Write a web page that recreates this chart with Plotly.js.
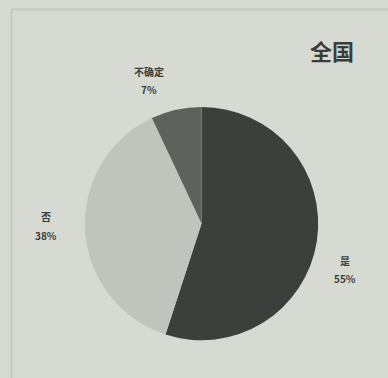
<!DOCTYPE html>
<html>
<head>
<meta charset="utf-8">
<script src="https://cdn.plot.ly/plotly-3.0.1.min.js"></script>
<style>html,body{margin:0;padding:0;background:#d6dad2;}</style>
</head>
<body>
<div id="chart" style="width:388px;height:378px;"></div>
<script>
const categories = ["是", "否", "不确定"];
const values = [55, 38, 7];
const valueLabels = ["55%", "38%", "7%"];
const colors = ["#3c3f3c", "#c1c4bd", "#5e615c"];
const chartTitle = "全国";

const labelPos = [
  {x: 0.89, y: 0.285},
  {x: 0.118, y: 0.40},
  {x: 0.385, y: 0.785}
];

const annotations = [];
categories.forEach((c, i) => {
  annotations.push({
    text: "<b>" + c + "</b>", x: labelPos[i].x, y: labelPos[i].y + 0.026,
    xref: "paper", yref: "paper", xanchor: "center", yanchor: "middle",
    showarrow: false, font: {family: "Noto Sans CJK SC", size: 10, color: "#3a3c3a"}
  });
  annotations.push({
    text: "<b>" + valueLabels[i] + "</b>", x: labelPos[i].x, y: labelPos[i].y - 0.022,
    xref: "paper", yref: "paper", xanchor: "center", yanchor: "middle",
    showarrow: false, font: {family: "Noto Sans CJK SC", size: 10, color: "#3a3c3a"}
  });
});
annotations.push({
  text: "<b>" + chartTitle + "</b>", x: 0.855, y: 0.868, xref: "paper", yref: "paper",
  xanchor: "center", yanchor: "middle",
  showarrow: false, font: {family: "Noto Sans CJK SC", size: 22, color: "#3a3c3a"}
});

Plotly.newPlot("chart", [{
  type: "pie",
  labels: categories,
  values: values,
  sort: false,
  direction: "clockwise",
  rotation: 0,
  textinfo: "none",
  hoverinfo: "none",
  marker: {colors: colors, line: {width: 0}},
  domain: {x: [0.214, 0.825], y: [0.10, 0.717]}
}], {
  width: 388, height: 378,
  margin: {l: 0, r: 0, t: 0, b: 0},
  paper_bgcolor: "#d6dad2",
  plot_bgcolor: "#d6dad2",
  showlegend: false,
  annotations: annotations,
  shapes: [{type: "rect", xref: "paper", yref: "paper", x0: 0.03, x1: 1.02, y0: -0.02, y1: 0.975,
    line: {color: "#c4c8c0", width: 2}}]
}, {staticPlot: true});
</script>
</body>
</html>
